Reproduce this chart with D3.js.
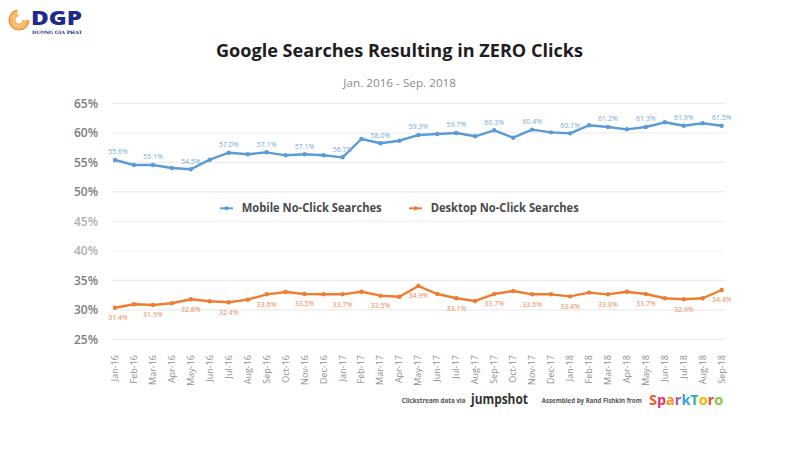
<!DOCTYPE html>
<html><head><meta charset="utf-8">
<script src="https://cdn.jsdelivr.net/npm/d3@7"></script>
<style>body{margin:0;background:#fff}svg{display:block}</style>
</head><body>
<svg id="c" width="800" height="450"></svg>
<script>
const months = ["Jan-16","Feb-16","Mar-16","Apr-16","May-16","Jun-16","Jul-16","Aug-16","Sep-16","Oct-16","Nov-16","Dec-16",
"Jan-17","Feb-17","Mar-17","Apr-17","May-17","Jun-17","Jul-17","Aug-17","Sep-17","Oct-17","Nov-17","Dec-17",
"Jan-18","Feb-18","Mar-18","Apr-18","May-18","Jun-18","Jul-18","Aug-18","Sep-18"];
const mobile = [55.42,54.57,54.57,54.06,53.84,55.47,56.65,56.38,56.72,56.21,56.38,56.21,
55.87,58.98,58.25,58.69,59.66,59.83,60.0,59.44,60.45,59.2,60.56,60.11,
59.94,61.3,61.01,60.62,61.01,61.81,61.23,61.64,61.23];
const desktop = [30.36,30.94,30.82,31.11,31.79,31.45,31.28,31.72,32.63,33.02,32.68,32.63,
32.63,33.07,32.4,32.23,34.04,32.68,31.96,31.5,32.68,33.19,32.63,32.63,
32.29,32.91,32.63,33.07,32.68,31.96,31.79,31.96,33.36];
// labels shown on every other month (Jan-16, Mar-16, ...)
const mobileLabels = ["55.6%","55.1%","54.5%","57.0%","57.1%","57.1%","56.7%","58.0%","59.3%","59.7%","60.3%","60.4%","60.1%","61.2%","61.3%","61.9%","61.5%"];
const desktopLabels = ["31.4%","31.9%","32.8%","32.4%","33.6%","33.5%","33.7%","33.5%","34.9%","33.1%","33.7%","33.6%","33.4%","33.8%","33.7%","32.9%","34.4%"];
const yTicks = [25,30,35,40,45,50,55,60,65];
const seriesNames = ["Mobile No-Click Searches","Desktop No-Click Searches"];
const title = "Google Searches Resulting in ZERO Clicks";
const subtitle = "Jan. 2016 - Sep. 2018";

const svg = d3.select("#c");
const F = "'Open Sans', 'DejaVu Sans', sans-serif";
const blue = "#5b9bd5", orange = "#ed7d31";

const x = d3.scalePoint().domain(months).range([115, 721.7]);
const y = d3.scaleLinear().domain([25,65]).range([339.3, 103.5]);

// fit a text horizontally to a target width with a scale transform
function fitText(sel, x0, y0, w){
  const len = sel.node().getComputedTextLength();
  sel.attr("x",0).attr("y",0).attr("transform",`translate(${x0},${y0}) scale(${w/len},1)`);
  return sel;
}

// gridlines + y labels
const yAxis = svg.append("g");
yAxis.selectAll("line").data(yTicks).join("line")
  .attr("x1",111.7).attr("x2",725).attr("y1",d=>y(d)).attr("y2",d=>y(d))
  .attr("stroke", d=> (d===45||d===40)?"#f4f4f4":"#ebebeb").attr("stroke-width",1.2);
yAxis.selectAll("text").data(yTicks).join("text")
  .attr("x",98).attr("y",d=>y(d)).attr("dy","0.36em").attr("text-anchor","end")
  .attr("font-family",F).attr("font-weight",600).attr("font-size",12)
  .attr("fill", d=> (d===45||d===40)?"#b0b0b0":"#7c7c7c").text(d=>d+"%");

// x labels
svg.append("g").selectAll("text").data(months).join("text")
  .attr("transform",d=>`translate(${x(d)+3},355) rotate(-90)`)
  .attr("text-anchor","end").attr("font-family",F).attr("font-size",9)
  .attr("fill","#8f8f8f").text(d=>d);

// lines
function drawSeries(vals, color){
  const line = d3.line().x((d,i)=>x(months[i])).y(d=>y(d));
  svg.append("path").datum(vals).attr("d",line).attr("fill","none")
    .attr("stroke",color).attr("stroke-width",2.4).attr("stroke-linejoin","round");
  svg.append("g").selectAll("circle").data(vals).join("circle")
    .attr("cx",(d,i)=>x(months[i])).attr("cy",d=>y(d)).attr("r",2.2).attr("fill",color);
}
drawSeries(mobile, blue);
drawSeries(desktop, orange);

// data labels
svg.append("g").selectAll("text").data(mobileLabels).join("text")
  .attr("x",(d,i)=>x(months[i*2])+(i===0?3:0)).attr("y",(d,i)=>y(mobile[i*2])-8)
  .attr("dy","0.35em").attr("text-anchor","middle").attr("font-family",F)
  .attr("font-size",7).attr("fill","#74a9d8").text(d=>d);
svg.append("g").selectAll("text").data(desktopLabels).join("text")
  .attr("x",(d,i)=>x(months[i*2])+(i===0?3:0)).attr("y",(d,i)=>y(desktop[i*2])+10)
  .attr("dy","0.35em").attr("text-anchor","middle").attr("font-family",F)
  .attr("font-size",7).attr("fill","#e98a52").text(d=>d);

// legend
const leg = [{n:seriesNames[0],c:blue,x:220,w:140},{n:seriesNames[1],c:orange,x:409,w:148}];
const lg = svg.append("g").selectAll("g").data(leg).join("g");
lg.append("line").attr("x1",d=>d.x).attr("x2",d=>d.x+13).attr("y1",208.3).attr("y2",208.3)
  .attr("stroke",d=>d.c).attr("stroke-width",2);
lg.append("circle").attr("cx",d=>d.x+6.5).attr("cy",208.3).attr("r",2).attr("fill",d=>d.c);
lg.append("text").attr("x",d=>d.x+21.7).attr("y",208.3).attr("dy","0.36em")
  .attr("font-family",F).attr("font-weight",700).attr("font-size",11.5).attr("fill","#4a4a4a")
  .attr("textLength",d=>d.w).attr("lengthAdjust","spacingAndGlyphs").text(d=>d.n);

// titles
svg.append("text").attr("x",216).attr("y",57).attr("font-family",F).attr("font-weight",700)
  .attr("font-size",18.5).attr("fill","#1e1e1e").attr("textLength",367).attr("lengthAdjust","spacingAndGlyphs").text(title);
svg.append("text").attr("x",343.3).attr("y",86.5).attr("font-family",F)
  .attr("font-size",10.5).attr("fill","#8c8c8c").attr("textLength",112.7).attr("lengthAdjust","spacingAndGlyphs").text(subtitle);

// credits
const defs = svg.append("defs");
const sparkColors = ["#f05a28","#e8336d","#f7941d","#9b59b6","#3aa0d8","#2bb3a0","#f4b400","#e84c3d","#8bc34a"];
const grad = defs.append("linearGradient").attr("id","sparkGrad")
  .attr("gradientUnits","objectBoundingBox").attr("x1",0).attr("x2",1).attr("y1",0).attr("y2",0);
sparkColors.forEach((c,i)=>{
  grad.append("stop").attr("offset",i/sparkColors.length).attr("stop-color",c);
  grad.append("stop").attr("offset",(i+1)/sparkColors.length).attr("stop-color",c);
});
const cr = svg.append("g").attr("font-family",F).attr("font-weight",700);
fitText(cr.append("text").attr("font-size",7.5).attr("fill","#555").text("Clickstream data via"), 401.7, 403, 64);
fitText(cr.append("text").attr("font-size",15).attr("fill","#333").text("jumpshot"), 471, 404, 57);
fitText(cr.append("text").attr("font-size",7.5).attr("fill","#555").text("Assembled by Rand Fishkin from"), 541.7, 403, 100);
fitText(cr.append("text").attr("font-size",14.5).attr("fill","url(#sparkGrad)").text("SparkToro"), 649, 405, 74.3);

// logo
const logo = svg.append("g");
[9.5,7,4.5].forEach((r,i)=>{
  logo.append("circle").attr("cx",19).attr("cy",20).attr("r",r).attr("fill","none")
    .attr("stroke",i===0?"#f39a3c":"#f7b45c").attr("stroke-width",2.2)
    .attr("stroke-dasharray",`${r*4.5} ${r*1.8}`);
});
logo.append("text").attr("x",31).attr("y",24.5).attr("font-family",F).attr("font-weight",800)
  .attr("font-size",18.5).attr("fill","#1d2a8a").attr("textLength",51).attr("lengthAdjust","spacingAndGlyphs").text("DGP");
logo.append("text").attr("x",32).attr("y",34).attr("font-family","'DejaVu Serif', serif").attr("font-weight",700)
  .attr("font-size",4.5).attr("fill","#1d2a8a").attr("textLength",50).attr("lengthAdjust","spacingAndGlyphs").text("DUONG GIA PHAT");
</script>
</body></html>
